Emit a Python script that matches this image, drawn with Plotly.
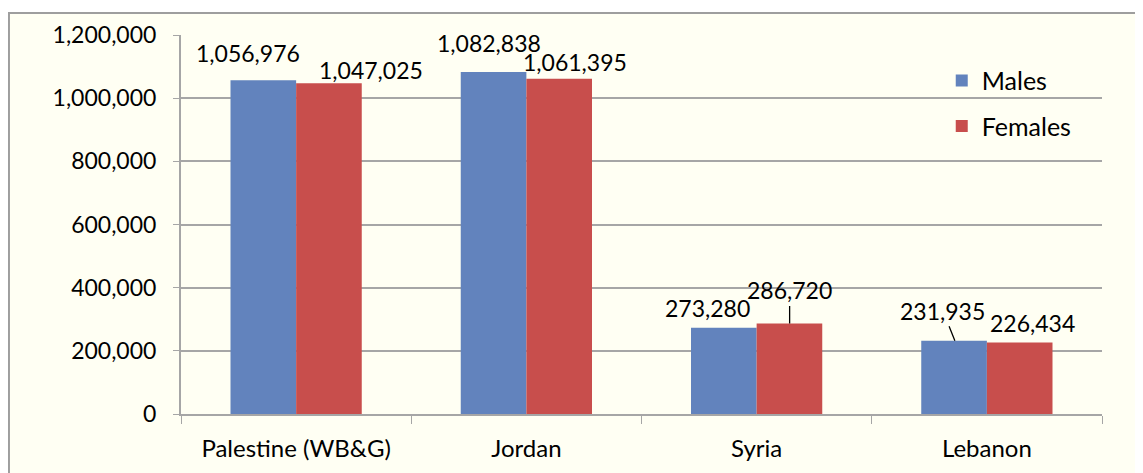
import plotly.graph_objects as go

countries = ["Palestine (WB&G)", "Jordan", "Syria", "Lebanon"]
males = [1056976, 1082838, 273280, 231935]
females = [1047025, 1061395, 286720, 226434]
y_ticks = [0, 200000, 400000, 600000, 800000, 1000000, 1200000]

FONT = "Lato"
BG = "#FFFFF3"
GRID = "#A6A6A6"
BLUE = "#6283BD"
RED = "#C84E4C"

fig = go.Figure()
fig.add_trace(go.Bar(x=countries, y=males, name="Males", marker_color=BLUE,
                     marker_line=dict(width=0), legendgroup="m"))
fig.add_trace(go.Bar(x=countries, y=females, name="Females", marker_color=RED,
                     marker_line=dict(width=0), legendgroup="f"))

# data labels: (xshift, yshift) for plain labels, (xshift, ax, ay) for leader ones
label_pos_m = [(-48, 27, None), (-37, 29, None), (-49, 20, None), (-32, -12, -30)]
label_pos_f = [(75, 13, None), (49, 17, None), (33, 0, -33), (46, 19, None)]

for series, pos in ((males, label_pos_m), (females, label_pos_f)):
    for c, v, (dx, a, b) in zip(countries, series, pos):
        text = f"{v:,}"
        if b is None:
            fig.add_annotation(x=c, y=v, text=text, showarrow=False,
                               xshift=dx, yshift=a, yanchor="middle",
                               font=dict(family=FONT, size=23, color="black"))
        else:
            fig.add_annotation(x=c, y=v, text=text, showarrow=True,
                               arrowhead=0, arrowwidth=1.3, arrowcolor="black",
                               ax=a, ay=b, xshift=dx,
                               font=dict(family=FONT, size=23, color="black"))

# chart area frame
fig.add_shape(type="rect", xref="paper", yref="paper", layer="below",
              x0=-0.1868, x1=1.2, y0=-0.3, y1=1.058,
              line=dict(color="#9E9E9E", width=2), fillcolor=BG)

# page body adds an 8px offset, so the figure is 8px smaller with shifted margins
fig.update_layout(
    width=1135, height=465,
    margin=dict(l=173, r=41, t=27, b=59),
    paper_bgcolor="white",
    plot_bgcolor=BG,
    barmode="group",
    bargap=0.43,
    bargroupgap=0,
    font=dict(family=FONT, size=23, color="black"),
    legend=dict(x=0.826, y=0.94, xanchor="left", yanchor="top",
                bgcolor="rgba(0,0,0,0)", tracegroupgap=10,
                font=dict(family=FONT, size=25)),
    xaxis=dict(tickson="boundaries", ticks="outside", ticklen=8, tickcolor=GRID,
               showline=True, linecolor=GRID, linewidth=2, showgrid=False,
               ticklabelstandoff=12,
               tickfont=dict(family=FONT, size=24)),
    yaxis=dict(range=[0, 1200000], tickvals=y_ticks,
               ticktext=[f"{t:,}" for t in y_ticks],
               ticks="outside", ticklen=6, tickcolor=GRID,
               showline=True, linecolor=GRID, linewidth=2,
               gridcolor=GRID, gridwidth=1.5, zeroline=False,
               ticklabelstandoff=12,
               tickfont=dict(family=FONT, size=23)),
)

fig.write_html("out.html")
